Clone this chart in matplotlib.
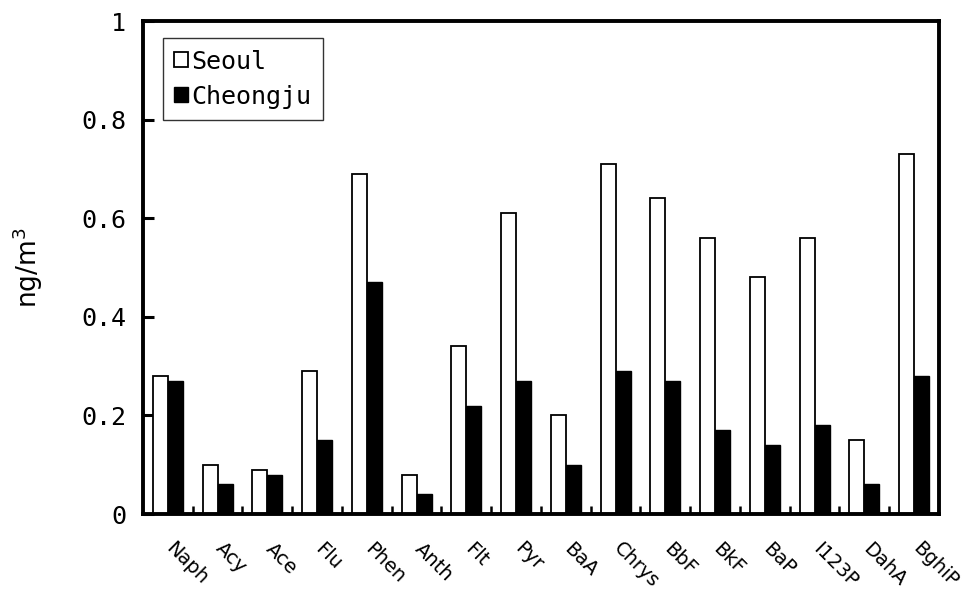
import matplotlib
matplotlib.use("Agg")
import matplotlib.pyplot as plt
import matplotlib.transforms as mtransforms
import numpy as np

categories = ["Naph", "Acy", "Ace", "Flu", "Phen", "Anth", "Flt", "Pyr",
              "BaA", "Chrys", "BbF", "BkF", "BaP", "I123P", "DahA", "BghiP"]
seoul = [0.28, 0.10, 0.09, 0.29, 0.69, 0.08, 0.34, 0.61,
         0.20, 0.71, 0.64, 0.56, 0.48, 0.56, 0.15, 0.73]
cheongju = [0.27, 0.06, 0.08, 0.15, 0.47, 0.04, 0.22, 0.27,
            0.10, 0.29, 0.27, 0.17, 0.14, 0.18, 0.06, 0.28]
yticks = [0, 0.2, 0.4, 0.6, 0.8, 1]
ytick_labels = ["0", "0.2", "0.4", "0.6", "0.8", "1"]

fig = plt.figure(figsize=(9.78, 5.95), dpi=100)
ax = fig.add_axes([0.1462, 0.1361, 0.8139, 0.8286])

x = np.arange(len(categories))
w = 0.3
ax.bar(x - w / 2, seoul, w, color="white", edgecolor="black", linewidth=1.3,
       label="Seoul", zorder=2)
ax.bar(x + w / 2, cheongju, w, color="black", edgecolor="black", linewidth=1.0,
       label="Cheongju", zorder=2)

ax.set_xlim(-0.5, len(categories) - 0.5)
ax.set_ylim(0, 1)

for s in ax.spines.values():
    s.set_linewidth(2.8)
    s.set_color("black")

mono = "DejaVu Sans Mono"
ax.set_yticks(yticks)
ax.set_yticklabels(ytick_labels, fontfamily=mono, fontsize=18)
ax.tick_params(axis="y", direction="in", length=8, width=2.2, pad=12)

# category labels at centres, separators as small inward ticks at boundaries
ax.set_xticks(x)
ax.set_xticklabels(categories, rotation=-45, ha="left", va="top",
                   rotation_mode="anchor", fontfamily="DejaVu Sans", fontsize=14)
ax.tick_params(axis="x", which="major", length=0, pad=18)
shift = mtransforms.ScaledTranslation(8 / 100, 0, fig.dpi_scale_trans)
for lab in ax.get_xticklabels():
    lab.set_transform(lab.get_transform() + shift)
ax.set_xticks(np.arange(0.5, len(categories) - 0.5, 1.0), minor=True)
ax.tick_params(axis="x", which="minor", direction="in", length=6, width=1.8)

ax.set_ylabel("ng/m$^{3}$", fontfamily="DejaVu Sans", fontsize=19, labelpad=26)

leg = ax.legend(loc="upper left", bbox_to_anchor=(0.025, 0.965), borderaxespad=0,
                prop={"family": mono, "size": 18}, frameon=True, fancybox=False,
                edgecolor="black", handlelength=0.55, handleheight=0.55,
                handletextpad=0.15, labelspacing=0.45, borderpad=0.45)
leg.get_frame().set_linewidth(1.0)

fig.savefig("out.png", dpi=100)
